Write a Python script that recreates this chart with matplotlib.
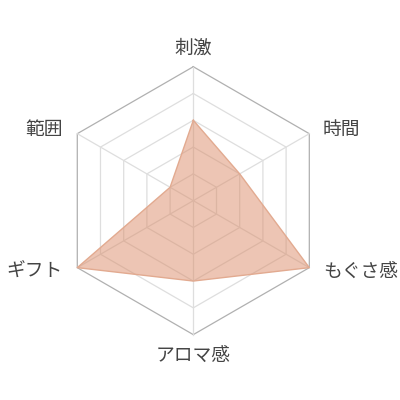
import numpy as np
import matplotlib
matplotlib.use("Agg")
import matplotlib.pyplot as plt

plt.rcParams['font.family'] = ['Noto Sans CJK JP', 'DejaVu Sans']

labels = ["刺激", "時間", "もぐさ感", "アロマ感", "ギフト", "範囲"]
values = [3, 2, 5, 3, 5, 1]
levels = [1, 2, 3, 4, 5]
max_value = 5

# angle of each axis, starting at the top and going clockwise
angles = np.deg2rad(90 - 60 * np.arange(len(labels)))

fig = plt.figure(figsize=(4, 4), dpi=100)
ax = fig.add_axes([0, 0, 1, 1])
ax.set_xlim(-7.21, 7.71)
ax.set_ylim(-7.44, 7.49)
ax.set_aspect("equal")
ax.axis("off")

# grid hexagons
for lv in levels:
    xs = np.append(lv * np.cos(angles), lv * np.cos(angles[0]))
    ys = np.append(lv * np.sin(angles), lv * np.sin(angles[0]))
    col = "#b0b0b0" if lv == max_value else "#dedede"
    ax.plot(xs, ys, color=col, lw=0.9, zorder=1)

# spokes
for a in angles:
    ax.plot([0, max_value * np.cos(a)], [0, max_value * np.sin(a)],
            color="#dedede", lw=0.9, zorder=1)

# data polygon
v = np.array(values, dtype=float)
px = np.append(v * np.cos(angles), v[0] * np.cos(angles[0]))
py = np.append(v * np.sin(angles), v[0] * np.sin(angles[0]))
ax.fill(px, py, color="#dc8d6a", alpha=0.5, lw=0, zorder=2)
ax.plot(px, py, color="#e2aa90", lw=1.0, zorder=3)

# axis labels
txt = dict(fontsize=13.5, color="#444444")
for lab, a in zip(labels, angles):
    x = max_value * np.cos(a)
    y = max_value * np.sin(a)
    c = np.cos(a)
    s = np.sin(a)
    if abs(c) < 0.1:
        if s > 0:
            ax.text(x, y + 0.3, lab, ha="center", va="bottom", **txt)
        else:
            ax.text(x, y - 0.4, lab, ha="center", va="top", **txt)
    else:
        dy = 0.15 if s > 0 else -0.12
        if c > 0:
            ax.text(x + 0.5, y + dy, lab, ha="left", va="center", **txt)
        else:
            ax.text(x - 0.55, y + dy, lab, ha="right", va="center", **txt)

fig.savefig("out.png", dpi=100)
